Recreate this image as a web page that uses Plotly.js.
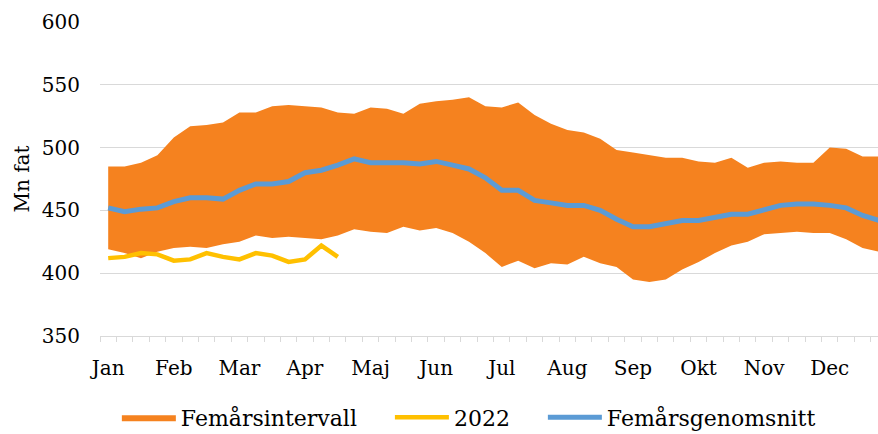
<!DOCTYPE html>
<html>
<head>
<meta charset="utf-8">
<script src="https://cdn.plot.ly/plotly-3.0.1.min.js"></script>
<style>html,body{margin:0;padding:0;background:#fff;}#chart{width:878px;height:434px;}</style>
</head>
<body>
<div id="chart"></div>
<script>
// Weeks 1..48 (chart is cropped at the right edge)
const weeks = [1,2,3,4,5,6,7,8,9,10,11,12,13,14,15,16,17,18,19,20,21,22,23,24,25,26,27,28,29,30,31,32,33,34,35,36,37,38,39,40,41,42,43,44,45,46,47,48];
const monthTickWeeks = [1,5,9,13,17,21,25,29,33,37,41,45];
const monthLabels = ["Jan","Feb","Mar","Apr","Maj","Jun","Jul","Aug","Sep","Okt","Nov","Dec"];

// Femårsintervall: min and max
const bandMin = [419,416,412,417,420,421,420,423,425,430,428,429,428,427,430,435,433,432,437,434,436,432,425,416,405,410,404,408,407,413,408,405,395,393,395,403,409,416,422,425,431,432,433,432,432,427,420,417];
const bandMax = [485,485,488,494,508,517,518,520,528,528,533,534,533,532,528,527,532,531,527,535,537,538,540,533,532,536,526,519,514,512,507,498,496,494,492,492,489,488,492,484,488,489,488,488,500,499,493,493];
// Femårsgenomsnitt
const avg5 = [452,449,451,452,457,460,460,459,466,471,471,473,480,482,486,491,488,488,488,487,489,486,483,476,466,466,458,456,454,454,450,443,437,437,439,442,442,444,447,447,451,454,455,455,454,452,446,442];
// 2022
const weeks2022 = [1,2,3,4,5,6,7,8,9,10,11,12,13,14,15];
const y2022 = [412,413,416,415,410,411,416,413,411,416,414,409,411,422,413];

const seriesNames = ["Femårsintervall", "2022", "Femårsgenomsnitt"];
const pad = "\u00a0\u00a0\u00a0\u00a0";

const font = {family: "DejaVu Serif", size: 20, color: "#000"};
const legendFont = {family: "DejaVu Serif", size: 22, color: "#000"};

const traces = [
  {x: weeks, y: bandMin, type: "scatter", mode: "lines", line: {width: 0, color: "rgba(0,0,0,0)"}, showlegend: false, hoverinfo: "skip"},
  {x: weeks, y: bandMax, type: "scatter", mode: "lines", fill: "tonexty", fillcolor: "#F5821F", line: {width: 0, color: "#F5821F"}, name: seriesNames[0] + pad},
  {x: weeks2022, y: y2022, type: "scatter", mode: "lines", line: {width: 4.5, color: "#FFC000"}, name: seriesNames[1] + pad},
  {x: weeks, y: avg5, type: "scatter", mode: "lines", line: {width: 5, color: "#5B9BD5"}, name: seriesNames[2]}
];

const layout = {
  width: 878, height: 434,
  margin: {l: 100, r: 0, t: 22, b: 98},
  paper_bgcolor: "#fff", plot_bgcolor: "#fff",
  font: font,
  showlegend: true,
  xaxis: {
    range: [0.5, 47.94],
    tickmode: "array", tickvals: monthTickWeeks, ticktext: monthLabels,
    ticks: "", showgrid: false, zeroline: false,
    showline: true, linecolor: "#d9d9d9", linewidth: 1,
    ticklabelstandoff: 14,
    minor: {tick0: 0.5, dtick: 1, ticks: "outside", ticklen: 5, tickcolor: "#d9d9d9", tickwidth: 1, showgrid: false},
    tickfont: font
  },
  yaxis: {
    range: [350, 600], tickvals: [350,400,450,500,550,600],
    showgrid: true, gridcolor: "#d9d9d9", gridwidth: 1, zeroline: false,
    showline: false, ticks: "", ticklabelstandoff: 19,
    tickfont: font,
    title: {text: "Mn fat", font: font, standoff: 6}
  },
  legend: {
    orientation: "h", xref: "container", yref: "container",
    x: 0.534, xanchor: "center", y: 0.038, yanchor: "middle",
    font: legendFont, itemwidth: 54, traceorder: "normal"
  }
};

Plotly.newPlot("chart", traces, layout, {staticPlot: true, displayModeBar: false});
</script>
</body>
</html>
